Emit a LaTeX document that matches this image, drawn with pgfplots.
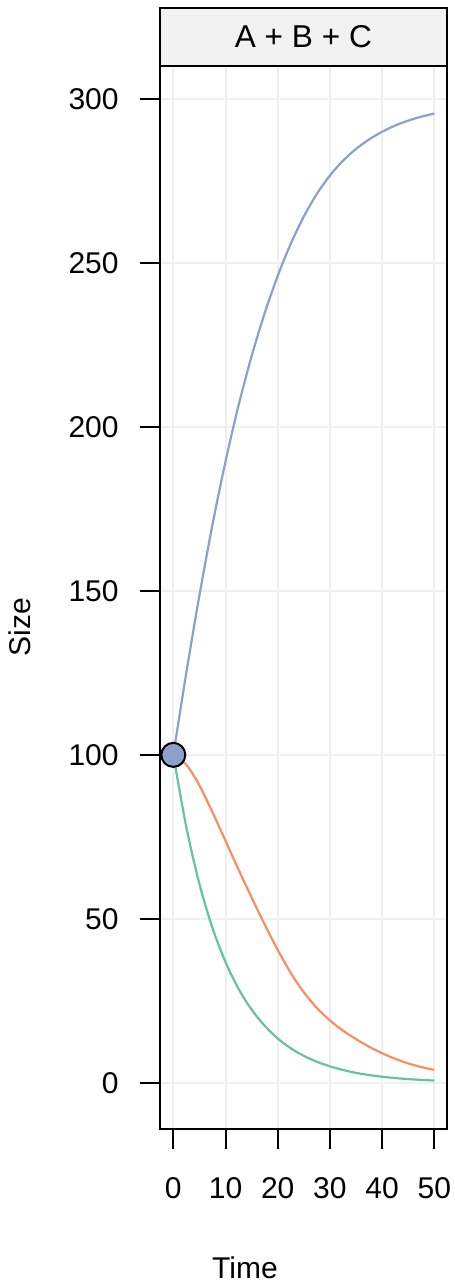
\documentclass[border=0pt]{standalone}
\usepackage{fontspec}
\setmainfont{Liberation Sans}
\usepackage{pgfplots}
\usepackage{pgfplotstable}
\pgfplotsset{compat=1.18}
\definecolor{cA}{HTML}{66C2A5}
\definecolor{cB}{HTML}{FC8D62}
\definecolor{cC}{HTML}{8DA0CB}
\definecolor{gridc}{HTML}{EFEFEF}
\definecolor{stripc}{HTML}{F2F2F2}
\pgfplotstableread{
t A B C
0 100 100 100
2.5 77.9 97.0 125.1
5 60.65 90.7 148.6
7.5 47.2 82.5 170.2
10 36.8 73.8 189.5
12.5 28.65 65.0 206.6
15 22.3 56.5 221.6
17.5 17.4 48.3 234.7
20 13.5 40.5 246.1
22.5 10.5 33.5 255.9
25 8.2 27.6 264.2
27.5 6.4 22.8 271.1
30 5.0 19.0 276.7
32.5 3.9 15.9 281.2
35 3.0 13.3 284.8
37.5 2.35 11.0 287.7
40 1.83 9.0 290.05
42.5 1.43 7.3 291.95
45 1.11 5.9 293.45
47.5 0.87 4.8 294.65
50 0.67 3.9 295.6
}\datatable
\begin{document}
\begin{tikzpicture}
\begin{axis}[
  scale only axis, width=143.35bp, height=531.8bp,
  xmin=-2.55, xmax=52.37, ymin=-14.2, ymax=310.2,
  axis line style={line width=1bp},
  xtick={0,10,...,50}, ytick={0,50,...,300},
  xtick pos=left, ytick pos=left,
  tick align=outside, major tick length=10bp,
  every tick/.style={line width=1bp, black},
  grid=major, major grid style={gridc, line width=1bp},
  ticklabel style={font=\fontsize{15bp}{18bp}\selectfont},
  /pgf/number format/assume math mode=true,
  xticklabel style={anchor=north, inner sep=0pt, yshift=-14bp},
  yticklabel style={anchor=east, inner sep=0pt, xshift=-10.5bp},
]
\addplot[cA, line width=1.1bp, smooth, no marks] table[x=t, y=A] {\datatable};
\addplot[cB, line width=1.1bp, smooth, no marks] table[x=t, y=B] {\datatable};
\addplot[cC, line width=1.1bp, smooth, no marks] table[x=t, y=C] {\datatable};
\addplot[only marks, mark=*, mark size=6bp, mark options={fill=cC, draw=black, line width=1bp}] coordinates {(0,100)};
\end{axis}
\draw[line width=1bp, fill=stripc] (current axis.north west) rectangle ++(143.35bp, 28.7bp);
\node[font=\fontsize{15.8bp}{19bp}\selectfont] at ([shift={(71.675bp,14.35bp)}]current axis.north west) {A + B + C};
\node[font=\fontsize{15bp}{18bp}\selectfont, rotate=90] at ([shift={(-70bp,251.15bp)}]current axis.south west) {Size};
\node[font=\fontsize{15bp}{18bp}\selectfont] at ([shift={(42.5bp,-69.35bp)}]current axis.south west) {Time};
\path ([shift={(-80bp,-78.85bp)}]current axis.south west) rectangle ([shift={(147.5bp,564.65bp)}]current axis.south west);
\end{tikzpicture}
\end{document}
